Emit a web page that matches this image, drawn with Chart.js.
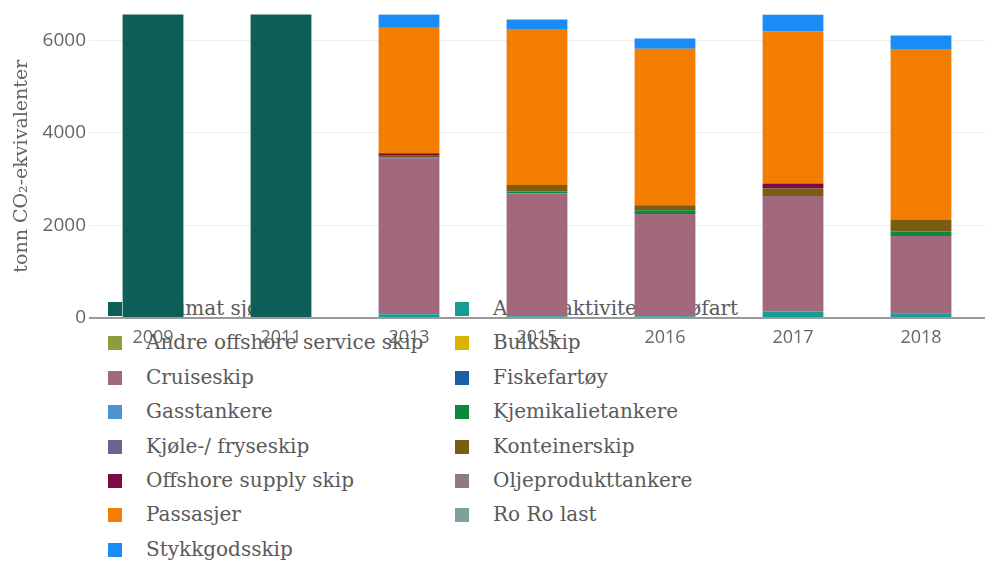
<!DOCTYPE html>
<html>
<head>
<meta charset="utf-8">
<script src="https://cdn.jsdelivr.net/npm/chart.js@4"></script>
<style>
html, body { margin: 0; padding: 0; background: #fff; }
#wrap { position: relative; width: 987px; height: 564px; }
#legend { position: absolute; left: 0; top: 0; width: 987px; height: 564px; z-index: 0;
  font-family: "DejaVu Serif", serif; font-size: 20px; color: #5a5a5a; }
#legend .item { position: absolute; height: 20px; line-height: 20px; white-space: nowrap; }
#legend .box { position: absolute; left: 0; top: 3px; width: 14px; height: 14px; }
#legend .txt { position: absolute; left: 38px; top: -1px; }
canvas { position: relative; z-index: 1; }
</style>
</head>
<body>
<div id="wrap">
  <div id="legend"></div>
  <canvas id="chart" width="987" height="564"></canvas>
</div>
<script>
// categories
const years = ['2009', '2011', '2013', '2015', '2016', '2017', '2018'];

// series values (tonn CO2-ekvivalenter)
const estimatSjofart     = [6600, 6600, 0, 0, 0, 0, 0];
const andreAktiviteter   = [0, 0, 80, 40, 40, 140, 100];
const andreOffshore      = [0, 0, 0, 0, 0, 0, 0];
const bulkskip           = [0, 0, 0, 0, 0, 0, 0];
const cruiseskip         = [0, 0, 3360, 2654, 2208, 2494, 1674];
const fiskefartoy        = [0, 0, 0, 0, 0, 0, 0];
const gasstankere        = [0, 0, 0, 0, 0, 0, 0];
const kjemikalietankere  = [0, 0, 0, 40, 80, 0, 93];
const kjoleFryseskip     = [0, 0, 20, 0, 0, 0, 0];
const konteinerskip      = [0, 0, 60, 140, 110, 166, 252];
const offshoreSupply     = [0, 0, 40, 0, 0, 108, 0];
const oljeprodukttankere = [0, 0, 0, 0, 0, 0, 0];
const passasjer          = [0, 0, 2730, 3354, 3381, 3290, 3678];
const roRoLast           = [0, 0, 0, 0, 0, 0, 0];
const stykkgodsskip      = [0, 0, 275, 222, 222, 362, 309];

// y axis
const yMax = 6560;
const yTicks = [0, 2000, 4000, 6000];

const series = [
    ['Estimat sjøfart', estimatSjofart, '#0d5e57'],
    ['Andre aktiviteter sjøfart', andreAktiviteter, '#179c95'],
    ['Andre offshore service skip', andreOffshore, '#8d9c3c'],
    ['Bulkskip', bulkskip, '#d9b300'],
    ['Cruiseskip', cruiseskip, '#a2697c'],
    ['Fiskefartøy', fiskefartoy, '#1f5fa6'],
    ['Gasstankere', gasstankere, '#4b93d1'],
    ['Kjemikalietankere', kjemikalietankere, '#0b8a3c'],
    ['Kjøle-/ fryseskip', kjoleFryseskip, '#6c6391'],
    ['Konteinerskip', konteinerskip, '#7b5d12'],
    ['Offshore supply skip', offshoreSupply, '#7e0a45'],
    ['Oljeprodukttankere', oljeprodukttankere, '#8c7d7a'],
    ['Passasjer', passasjer, '#f27d00'],
    ['Ro Ro last', roRoLast, '#7fa09d'],
    ['Stykkgodsskip', stykkgodsskip, '#1a8cf5']
];

// legend sits under the canvas so the bars cover it, as in the picture
const legendEl = document.getElementById('legend');
series.forEach(function(s, i) {
    const item = document.createElement('div');
    item.className = 'item';
    item.style.left = (i % 2 === 0 ? 108 : 455) + 'px';
    item.style.top = (299 + Math.floor(i / 2) * 34.4) + 'px';
    item.innerHTML = '<span class="box" style="background:' + s[2] + '"></span><span class="txt"></span>';
    item.querySelector('.txt').textContent = s[0];
    legendEl.appendChild(item);
});

const ctx = document.getElementById('chart').getContext('2d');
new Chart(ctx, {
    type: 'bar',
    data: {
        labels: years,
        datasets: series.map(function(s) {
            return {
                label: s[0],
                data: s[1],
                backgroundColor: s[2],
                borderWidth: 0,
                categoryPercentage: 1,
                barPercentage: 0.475
            };
        })
    },
    options: {
        responsive: false,
        animation: false,
        layout: { padding: { top: 14, right: 2, left: 0, bottom: 0 } },
        plugins: {
            legend: { display: false },
            tooltip: { enabled: false }
        },
        scales: {
            x: {
                stacked: true,
                grid: { display: false },
                border: { display: false },
                ticks: {
                    color: '#666',
                    padding: 1,
                    font: { family: 'Open Sans', size: 18 }
                },
                afterFit: function(scale) { scale.height = 246; }
            },
            y: {
                stacked: true,
                min: 0,
                max: yMax,
                border: { display: false },
                grid: {
                    drawTicks: false,
                    color: function(c) { return c.tick && c.tick.value === 0 ? '#9a9a9a' : '#efefef'; },
                    lineWidth: function(c) { return c.tick && c.tick.value === 0 ? 2 : 1; }
                },
                afterBuildTicks: function(scale) {
                    scale.ticks = yTicks.map(function(v) { return { value: v }; });
                },
                ticks: {
                    color: '#666',
                    padding: 3,
                    font: { family: 'Open Sans', size: 19 },
                    callback: function(v) { return String(v); }
                },
                title: {
                    display: true,
                    text: 'tonn CO₂-ekvivalenter',
                    color: '#666',
                    padding: { top: 11, bottom: 0 },
                    font: { family: 'DejaVu Serif', size: 19 }
                },
                afterFit: function(scale) { scale.width = 89; }
            }
        }
    }
});
</script>
</body>
</html>
